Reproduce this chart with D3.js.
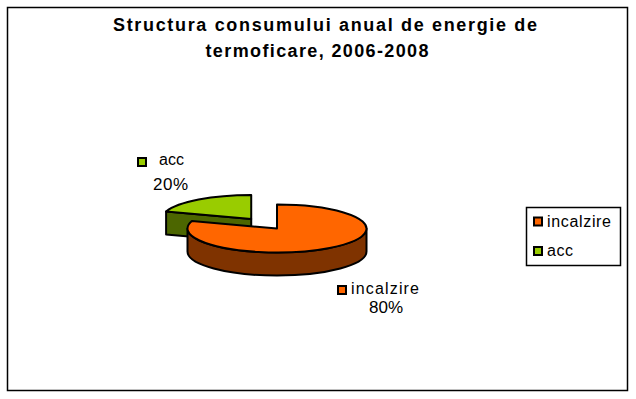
<!DOCTYPE html>
<html>
<head>
<meta charset="utf-8">
<script src="https://cdn.jsdelivr.net/npm/d3@7"></script>
<style>
  body { margin: 0; background: #fff; }
  text { font-family: Arial, "Liberation Sans", sans-serif; fill: #000; }
</style>
</head>
<body>
<div id="chart"></div>
<script>
// data
const categories = ['incalzire', 'acc'];
const values = [80, 20];
const colors = ['#ff6600', '#99cc00'];
const sideColors = ['#7f3300', '#4c6600'];
const titleLines = ['Structura consumului anual de energie de', 'termoficare, 2006-2008'];

const W = 636, H = 399;
const svg = d3.select('#chart').append('svg')
  .attr('width', W)
  .attr('height', H);

// outer border
svg.append('rect')
  .attr('x', 7.5).attr('y', 7.5)
  .attr('width', 620).attr('height', 383)
  .attr('fill', '#fff')
  .attr('stroke', '#000')
  .attr('stroke-width', 1.5);

// title
const titlePos = [{x: 325, y: 31, w: 424}, {x: 317, y: 57, w: 223}];
svg.selectAll('.title')
  .data(titleLines)
  .enter()
  .append('text')
  .attr('class', 'title')
  .attr('x', (d, i) => titlePos[i].x - titlePos[i].w / 2)
  .attr('y', (d, i) => titlePos[i].y)
  .attr('textLength', (d, i) => titlePos[i].w)
  .attr('lengthAdjust', 'spacing')
  .style('font-size', '18px')
  .style('font-weight', 'bold')
  .text(d => d);

// pie geometry
const cx = 277, cy = 228.5, rx = 89.5, ry = 24, depth = 23;
const explode = [0, 0.49];
const sw = 2;

const pie = d3.pie().sort(null).startAngle(0).endAngle(2 * Math.PI);
const arcs = pie(values);

const pt = (c, a, dy = 0) => [c[0] + rx * Math.sin(a), c[1] - ry * Math.cos(a) + dy];

arcs.forEach((d, i) => {
  const mid = (d.startAngle + d.endAngle) / 2;
  d.center = [cx + explode[i] * rx * Math.sin(mid), cy - explode[i] * ry * Math.cos(mid)];
});

function topPath(d) {
  const c = d.center;
  const p0 = pt(c, d.startAngle), p1 = pt(c, d.endAngle);
  const large = d.endAngle - d.startAngle > Math.PI ? 1 : 0;
  return `M${c}L${p0}A${rx},${ry} 0 ${large} 1 ${p1}Z`;
}

// front wall, visible between 90 and 270 deg
function wallPath(d) {
  const a0 = Math.max(d.startAngle, Math.PI / 2);
  const a1 = Math.min(d.endAngle, Math.PI * 1.5);
  if (a1 <= a0) return null;
  const c = d.center;
  const p0 = pt(c, a0), p1 = pt(c, a1);
  const q0 = pt(c, a0, depth), q1 = pt(c, a1, depth);
  return `M${p0}A${rx},${ry} 0 0 1 ${p1}L${q1}A${rx},${ry} 0 0 0 ${q0}Z`;
}

// radial face at start angle, only if it faces the viewer
function facePath(d) {
  const nAng = d.startAngle - Math.PI / 2;
  if (-Math.cos(nAng) <= 0.01) return null;
  const c = d.center;
  const p = pt(c, d.startAngle);
  return `M${c}L${p}L${[p[0], p[1] + depth]}L${[c[0], c[1] + depth]}Z`;
}

const g = svg.append('g');
// acc slice (behind) first, then main slice
[1, 0].forEach(i => {
  const d = arcs[i];
  const f = facePath(d);
  if (f) g.append('path').attr('d', f)
    .attr('fill', sideColors[i]).attr('stroke', '#000').attr('stroke-width', sw).attr('stroke-linejoin', 'round');
  const w = wallPath(d);
  if (w) g.append('path').attr('d', w)
    .attr('fill', sideColors[i]).attr('stroke', '#000').attr('stroke-width', sw).attr('stroke-linejoin', 'round');
  g.append('path').attr('d', topPath(d))
    .attr('fill', colors[i]).attr('stroke', '#000').attr('stroke-width', sw).attr('stroke-linejoin', 'round');
});

// data labels
const pct = d3.format('.0%');
const total = d3.sum(values);
const labelPos = [
  {kx: 337, ky: 285, tx: 351, ty: 294, tw: 68, px: 369, py: 313, pw: 34},
  {kx: 137, ky: 157, tx: 159, ty: 165, tw: 25, px: 153, py: 190, pw: 35}
];
const labels = svg.append('g');
categories.forEach((name, i) => {
  const L = labelPos[i];
  labels.append('rect')
    .attr('x', L.kx + 1).attr('y', L.ky + 1)
    .attr('width', 8).attr('height', 8)
    .attr('fill', colors[i]).attr('stroke', '#000').attr('stroke-width', 2);
  labels.append('text')
    .attr('x', L.tx).attr('y', L.ty)
    .attr('textLength', L.tw).attr('lengthAdjust', 'spacing')
    .style('font-size', '16px')
    .text(name);
  labels.append('text')
    .attr('x', L.px).attr('y', L.py)
    .attr('textLength', L.pw).attr('lengthAdjust', 'spacing')
    .style('font-size', '17px')
    .text(pct(values[i] / total));
});

// legend
const legend = svg.append('g');
legend.append('rect')
  .attr('x', 526.5).attr('y', 207.5)
  .attr('width', 94).attr('height', 58)
  .attr('fill', '#fff').attr('stroke', '#000').attr('stroke-width', 1.5);
const legY = d3.scalePoint().domain(categories).range([226.5, 256]);
const legW = [64, 26];
categories.forEach((name, i) => {
  legend.append('rect')
    .attr('x', 534).attr('y', legY(name) - 9)
    .attr('width', 8).attr('height', 8)
    .attr('fill', colors[i]).attr('stroke', '#000').attr('stroke-width', 2);
  legend.append('text')
    .attr('x', 547).attr('y', legY(name))
    .attr('textLength', legW[i]).attr('lengthAdjust', 'spacing')
    .style('font-size', '16px')
    .text(name);
});
</script>
</body>
</html>
